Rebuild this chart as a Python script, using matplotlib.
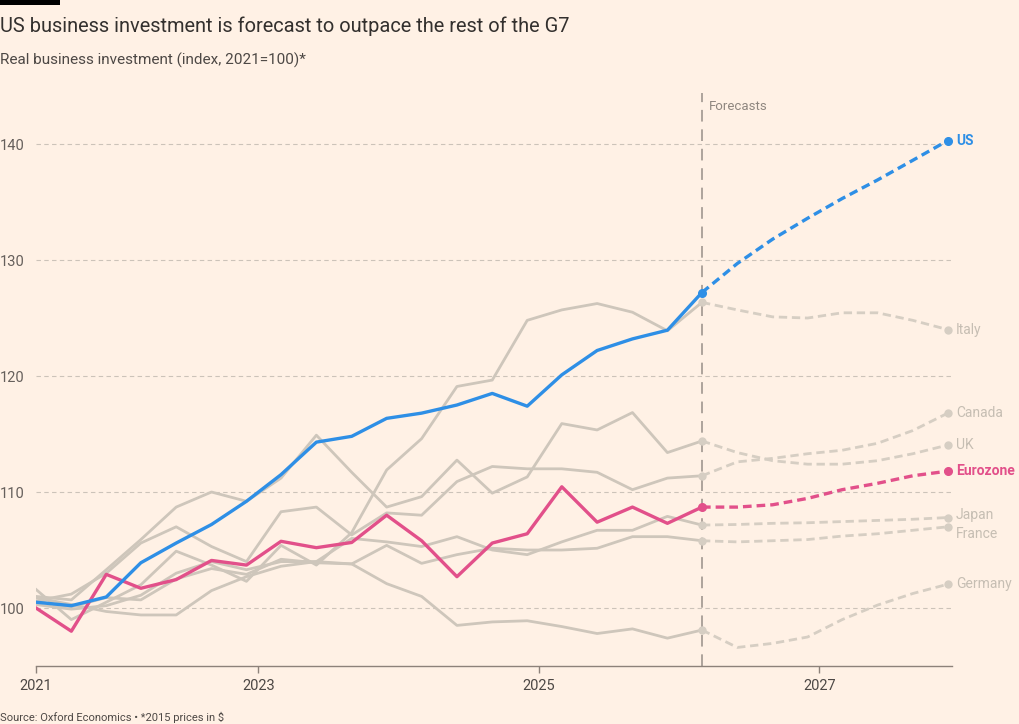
import numpy as np
import pandas as pd
import matplotlib
matplotlib.use("Agg")
import matplotlib.pyplot as plt
from matplotlib.patches import Rectangle

plt.rcParams['font.family'] = ['Roboto', 'DejaVu Sans']

# quarterly dates, history runs to index 19, forecasts from 19 to 26
dates = pd.date_range('2021-06-01', periods=27, freq='3MS')
hist = dates[:20]
fcst = dates[19:]

# history (index, 2021=100)
us_hist = [100.5, 100.2, 100.95, 103.9, 105.6, 107.2, 109.2, 111.5, 114.3, 114.8,
           116.35, 116.8, 117.5, 118.5, 117.4, 120.1, 122.2, 123.2, 123.95, 127.2]
ez_hist = [100.0, 98.0, 102.9, 101.7, 102.45, 104.1, 103.7, 105.75, 105.2, 105.65,
           108.0, 105.8, 102.7, 105.6, 106.4, 110.45, 107.4, 108.7, 107.3, 108.7]
italy_hist = [101.6, 99.0, 100.5, 102.0, 104.9, 103.7, 102.3, 105.4, 103.7, 106.5,
              111.9, 114.6, 119.1, 119.65, 124.8, 125.7, 126.25, 125.5, 123.9, 126.35]
canada_hist = [100.6, 101.2, 103.0, 105.6, 107.0, 105.3, 104.0, 108.3, 108.7, 106.3,
               108.2, 108.0, 110.9, 112.2, 112.0, 112.0, 111.7, 110.2, 111.2, 111.4]
uk_hist = [101.0, 100.7, 103.3, 105.9, 108.7, 110.0, 109.2, 111.2, 114.9, 111.7,
           108.7, 109.6, 112.75, 109.9, 111.3, 115.9, 115.35, 116.85, 113.4, 114.4]
japan_hist = [100.3, 99.9, 100.2, 101.1, 103.0, 104.0, 103.3, 104.0, 104.0, 106.0,
              105.7, 105.3, 106.15, 105.0, 104.6, 105.7, 106.7, 106.7, 107.9, 107.15]
france_hist = [100.6, 100.1, 100.9, 100.7, 102.5, 103.4, 102.9, 104.2, 103.9, 103.8,
               105.4, 103.85, 104.6, 105.15, 105.0, 105.0, 105.15, 106.15, 106.15, 105.8]
germany_hist = [100.9, 100.3, 99.7, 99.4, 99.4, 101.5, 102.7, 103.6, 104.0, 103.8,
                102.1, 101.0, 98.5, 98.8, 98.9, 98.4, 97.8, 98.2, 97.4, 98.1]

# forecasts
us_fc = [127.2, 129.7, 131.8, 133.6, 135.3, 136.9, 138.6, 140.3]
ez_fc = [108.7, 108.7, 108.9, 109.45, 110.2, 110.75, 111.4, 111.8]
italy_fc = [126.35, 125.7, 125.1, 125.0, 125.45, 125.45, 124.8, 124.0]
canada_fc = [111.4, 112.6, 112.9, 113.3, 113.6, 114.2, 115.3, 116.8]
uk_fc = [114.4, 113.4, 112.7, 112.4, 112.4, 112.7, 113.3, 114.05]
japan_fc = [107.15, 107.2, 107.3, 107.35, 107.45, 107.55, 107.65, 107.8]
france_fc = [105.8, 105.7, 105.8, 105.9, 106.2, 106.4, 106.7, 107.0]
germany_fc = [98.1, 96.6, 96.95, 97.5, 99.0, 100.25, 101.25, 102.05]

greys = [("Italy", italy_hist, italy_fc, 0),
         ("Canada", canada_hist, canada_fc, 0),
         ("UK", uk_hist, uk_fc, 0),
         ("Japan", japan_hist, japan_fc, 2),
         ("France", france_hist, france_fc, -5),
         ("Germany", germany_hist, germany_fc, 0)]

BG = '#FFF1E5'
GREY = '#CEC6BB'
GREY_FC = '#D6CEC3'
GREY_TXT = '#C6BEB3'
BLUE = '#2E8FE6'
PINK = '#E2508A'

fig = plt.figure(figsize=(10.2, 7.24), dpi=100)
fig.patch.set_facecolor(BG)
ax = fig.add_axes([36/1020, 1 - 666/724, (952 - 36)/1020, (666 - 93)/724])
ax.set_facecolor(BG)

ax.axvline(dates[19], color='#ADA39B', lw=1.4, ls=(0, (6, 4)), zorder=1)

for name, h, f, dy in greys:
    ax.plot(hist, h, color=GREY, lw=2.0, zorder=2)
    ax.plot(fcst, f, color=GREY_FC, lw=2.0, ls=(0, (3, 1.7)), zorder=2)
    ax.plot([fcst[0], fcst[-1]], [f[0], f[-1]], 'o', color=GREY_FC, ms=5, zorder=3)
    ax.annotate(name, (fcst[-1], f[-1]), xytext=(6, dy), textcoords='offset points',
                ha='left', va='center', fontsize=10, color=GREY_TXT)

for name, h, f, c in [("Eurozone", ez_hist, ez_fc, PINK), ("US", us_hist, us_fc, BLUE)]:
    ax.plot(hist, h, color=c, lw=2.4, zorder=4)
    ax.plot(fcst, f, color=c, lw=2.4, ls=(0, (2.6, 1.5)), zorder=4)
    ax.plot([fcst[0], fcst[-1]], [f[0], f[-1]], 'o', color=c, ms=5.5, zorder=5)
    ax.annotate(name, (fcst[-1], f[-1]), xytext=(6, 0), textcoords='offset points',
                ha='left', va='center', fontsize=10, color=c, fontweight='bold')

ax.annotate("Forecasts", (dates[19], 0.977), xycoords=('data', 'axes fraction'),
            xytext=(5, 0), textcoords='offset points', ha='left', va='center',
            fontsize=9.5, color='#8F8780')

ax.set_ylim(95, 144.4)
ax.set_xlim(dates[0], dates[0] + pd.Timedelta(days=int(6.531 * 365.25)))
ax.set_yticks([100, 110, 120, 130, 140])
ax.yaxis.grid(True, color='#CCC3B9', lw=0.8, ls=(0, (4, 3)))
ax.set_axisbelow(True)
ax.tick_params(axis='y', length=0, pad=26, labelsize=10.5, labelcolor='#66605C')
for lab in ax.get_yticklabels():
    lab.set_horizontalalignment('left')

xt = [dates[0], pd.Timestamp('2023-01-01'), pd.Timestamp('2025-01-01'), pd.Timestamp('2027-01-01')]
ax.set_xticks(xt)
ax.set_xticklabels(['2021', '2023', '2025', '2027'])
ax.tick_params(axis='x', length=5, width=1, color='#8D827A', pad=4, labelsize=10.5,
               labelcolor='#4D4845')

for s in ['top', 'right', 'left']:
    ax.spines[s].set_visible(False)
ax.spines['bottom'].set_color('#8D827A')
ax.spines['bottom'].set_linewidth(1)

fig.add_artist(Rectangle((0, 1 - 5/724), 60/1020, 5/724, transform=fig.transFigure,
                         color='black', lw=0))
fig.text(0, 1 - 26/724, "US business investment is forecast to outpace the rest of the G7",
         fontsize=14.4, color='#33302E', va='center', ha='left')
fig.text(0, 1 - 60/724, "Real business investment (index, 2021=100)*",
         fontsize=11, color='#4D4845', va='center', ha='left')
fig.text(0, 1 - 717/724, "Source: Oxford Economics \u2022 *2015 prices in $",
         fontsize=8, color='#4D4845', va='center', ha='left')

fig.savefig('out.png', dpi=100, facecolor=BG)
